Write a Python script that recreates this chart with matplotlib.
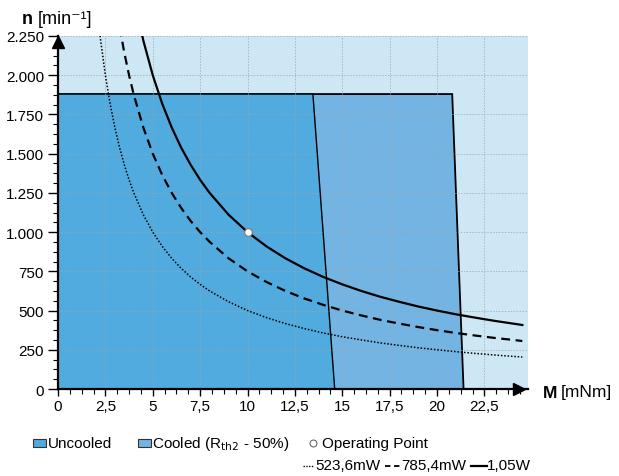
import matplotlib
matplotlib.use("Agg")
import matplotlib.pyplot as plt
from matplotlib.patches import Polygon, Rectangle
from matplotlib.lines import Line2D
from matplotlib.ticker import MultipleLocator, FuncFormatter
import matplotlib.transforms as mtransforms

plt.rcParams['font.family'] = ['Liberation Sans', 'DejaVu Sans']

# ---- data ----
uncooled_M = [0, 13.45, 14.6, 0]
uncooled_n = [1880, 1880, 0, 0]
cooled_M = [0, 20.8, 21.4, 0]
cooled_n = [1880, 1880, 0, 0]

curve_M = [2.0, 2.25, 2.5, 2.75, 3, 3.25, 3.5, 3.75, 4, 4.5, 5, 5.5, 6, 6.5, 7, 7.5, 8,
           9, 10, 11, 12, 13, 14, 15, 16, 17, 18, 19, 20, 21, 22, 23, 24, 24.5]
n_523mW = [2500, 2222, 2000, 1818, 1667, 1538, 1429, 1333, 1250, 1111, 1000, 909, 833, 769,
           714, 667, 625, 556, 500, 455, 417, 385, 357, 333, 313, 294, 278, 263, 250, 238,
           227, 217, 208, 204]
n_785mW = [3750, 3333, 3000, 2727, 2500, 2308, 2143, 2000, 1875, 1667, 1500, 1364, 1250, 1154,
           1071, 1000, 938, 833, 750, 682, 625, 577, 536, 500, 469, 441, 417, 395, 375, 357,
           341, 326, 313, 306]
n_105W = [5000, 4444, 4000, 3636, 3333, 3077, 2857, 2667, 2500, 2222, 2000, 1818, 1667, 1538,
          1429, 1333, 1250, 1111, 1000, 909, 833, 769, 714, 667, 625, 588, 556, 526, 500, 476,
          455, 435, 417, 408]
op_M = [10]
op_n = [1000]

x_ticks = [0, 2.5, 5, 7.5, 10, 12.5, 15, 17.5, 20, 22.5]
y_ticks = [0, 250, 500, 750, 1000, 1250, 1500, 1750, 2000, 2250]

# ---- colours ----
bg = '#cde8f4'
c_unc = '#52abdf'
c_cool = '#74b4e3'

W, H = 619, 477
fig = plt.figure(figsize=(W / 100, H / 100), dpi=100)
ax = fig.add_axes([58 / W, 1 - 390 / H, (528 - 58) / W, (390 - 37) / H])
ax.set_facecolor(bg)
ax.set_xlim(0, 24.8)
ax.set_ylim(0, 2250)

ax.add_patch(Polygon(list(zip(cooled_M, cooled_n)), closed=True, facecolor=c_cool,
                     edgecolor='black', lw=1.3, zorder=1))
ax.add_patch(Polygon(list(zip(uncooled_M, uncooled_n)), closed=True, facecolor=c_unc,
                     edgecolor='black', lw=1.0, zorder=1.1))

ax.set_xticks(x_ticks)
ax.set_yticks(y_ticks)
ax.xaxis.set_minor_locator(MultipleLocator(0.625))
ax.yaxis.set_minor_locator(MultipleLocator(62.5))
ax.xaxis.set_major_formatter(FuncFormatter(lambda v, p: ('%g' % v).replace('.', ',')))
ax.yaxis.set_major_formatter(FuncFormatter(lambda v, p: '{:,.0f}'.format(v).replace(',', '.')))
ax.grid(True, which='major', color='#97a5ad', ls=(0, (1.5, 1.5)), lw=0.7, alpha=0.7, zorder=1.5)
ax.set_axisbelow(False)

ax.plot(curve_M, n_523mW, color='black', ls=(0, (1, 1.2)), lw=1.1, zorder=3)
ax.plot(curve_M, n_785mW, color='black', ls=(0, (4, 2.5)), lw=1.6, zorder=3)
ax.plot(curve_M, n_105W, color='black', ls='-', lw=1.6, zorder=3)
ax.plot(op_M, op_n, 'o', ms=5.5, mfc='white', mec='#777777', mew=0.8, zorder=4)

for s in ['top', 'right']:
    ax.spines[s].set_visible(False)
for s in ['left', 'bottom']:
    ax.spines[s].set_linewidth(1.6)
    ax.spines[s].set_zorder(5)

ax.tick_params(which='major', direction='out', length=7, width=1.0, labelsize=11, pad=3)
ax.tick_params(axis='x', which='major', length=5, pad=2)
ax.tick_params(which='minor', direction='out', length=3.5, width=0.8)

# axis arrows
off_y = mtransforms.ScaledTranslation(0, -6 / 100, fig.dpi_scale_trans)
ax.plot([0], [1], marker='^', ms=9, color='black', transform=ax.transAxes + off_y,
        clip_on=False, zorder=6)
off_x = mtransforms.ScaledTranslation(-9 / 100, 0, fig.dpi_scale_trans)
ax.plot([1], [0], marker='>', ms=9, color='black', transform=ax.transAxes + off_x,
        clip_on=False, zorder=6)


def fx(px):
    return px / W


def fy(py):
    return 1 - py / H


# axis titles
fig.text(fx(22), fy(20), 'n', fontsize=13, fontweight='bold', va='center', ha='left')
fig.text(fx(38), fy(20), '[min\u207b\u00b9]', fontsize=13, va='center', ha='left')
fig.text(fx(543), fy(393), 'M', fontsize=12.5, fontweight='bold', va='center', ha='left')
fig.text(fx(561), fy(393), '[mNm]', fontsize=12.5, va='center', ha='left')

# legend row 1
LFS = 11
fig.patches.append(Rectangle((fx(33), fy(448)), 13 / W, 8 / H, transform=fig.transFigure,
                             facecolor=c_unc, edgecolor='#333333', lw=0.8))
fig.text(fx(48), fy(444), 'Uncooled', fontsize=LFS, va='center', ha='left')
fig.patches.append(Rectangle((fx(138), fy(448)), 13 / W, 8 / H, transform=fig.transFigure,
                             facecolor=c_cool, edgecolor='#333333', lw=0.8))
fig.text(fx(152), fy(444), r'Cooled (R$_{\mathrm{th2}}$ - 50%)', fontsize=LFS, va='center',
         ha='left', math_fontfamily='custom')
fig.lines.append(Line2D([fx(313)], [fy(444)], marker='o', ms=5, mfc='white', mec='#555555',
                        mew=0.7, transform=fig.transFigure))
fig.text(fx(322), fy(444), 'Operating Point', fontsize=LFS, va='center', ha='left')

# legend row 2
fig.lines.append(Line2D([fx(303), fx(314)], [fy(467), fy(467)], color='black', lw=1.0,
                        ls=(0, (1, 1)), transform=fig.transFigure))
fig.text(fx(315), fy(466), '523,6mW', fontsize=LFS, va='center', ha='left')
fig.lines.append(Line2D([fx(385), fx(400)], [fy(467), fy(467)], color='black', lw=1.3,
                        ls=(0, (3, 2)), transform=fig.transFigure))
fig.text(fx(401), fy(466), '785,4mW', fontsize=LFS, va='center', ha='left')
fig.lines.append(Line2D([fx(471), fx(487)], [fy(467), fy(467)], color='black', lw=1.6,
                        transform=fig.transFigure))
fig.text(fx(487), fy(466), '1,05W', fontsize=LFS, va='center', ha='left')

fig.savefig('out.png', dpi=100)
